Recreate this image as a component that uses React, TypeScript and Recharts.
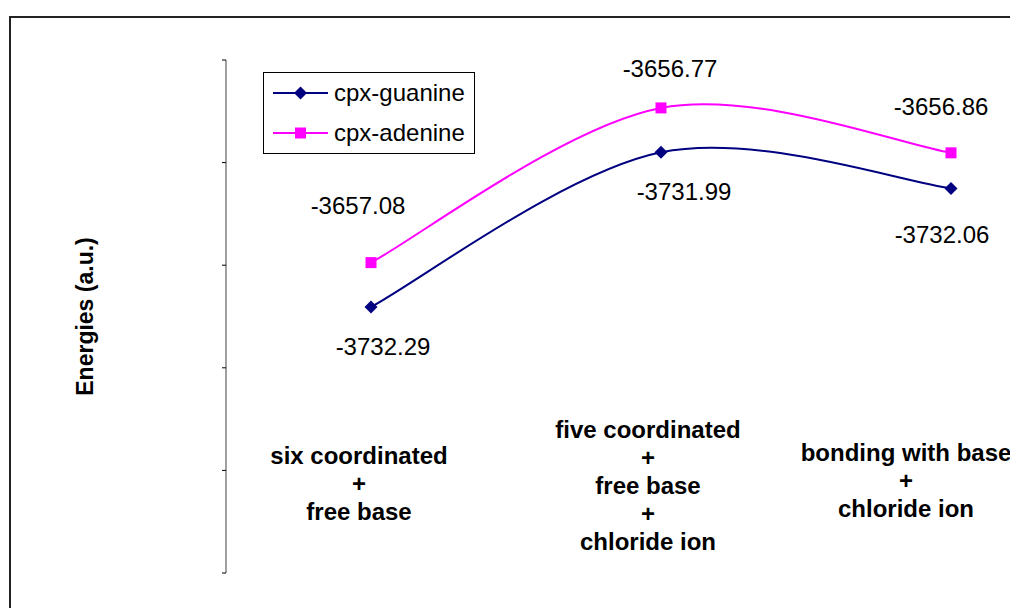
import React from 'react';
import { LineChart, Line, XAxis, YAxis, Legend, LabelList } from 'recharts';

const stages = ['six coordinated', 'five coordinated', 'bonding with base'];
const stageLines = [
  ['six coordinated', '+', 'free base'],
  ['five coordinated', '+', 'free base', '+', 'chloride ion'],
  ['bonding with base', '+', 'chloride ion'],
];
const guanine = [-3732.29, -3731.99, -3732.06];
const adenine = [-3657.08, -3656.77, -3656.86];

const data = stages.map((s, i) => ({ stage: s, guanine: guanine[i], adenine: adenine[i] }));

// the two series sit on their own (unlabelled) scales, as in the original sheet
const gDomain: [number, number] = [-3732.806, -3731.811];
const aDomain: [number, number] = [-3657.702, -3656.674];
const gTicks = [0, 1, 2, 3, 4, 5].map(i => gDomain[0] + (i * (gDomain[1] - gDomain[0])) / 5);

const FONT = 'Arial, "Liberation Sans", sans-serif';
const NAVY = '#000080';
const PINK = '#FF00FF';

// hand-placed label nudges (px) like the dragged labels in the source
const gLabelShift = [[12, 40], [23, 39], [-9, 46]];
const aLabelShift = [[-13, -57], [9, -39], [-10, -46]];
const stageShift = [[-12, -126], [-13, -152], [-45, -129]];

// spreadsheet-style smoothing (Catmull-Rom as cubic beziers)
const excelSmooth = (context: any) => {
  let pts: number[][] = [];
  return {
    areaStart() {},
    areaEnd() {},
    lineStart() { pts = []; },
    point(x: number, y: number) { pts.push([+x, +y]); },
    lineEnd() {
      const n = pts.length;
      if (!n) return;
      context.moveTo(pts[0][0], pts[0][1]);
      for (let i = 0; i < n - 1; i++) {
        const p0 = pts[Math.max(0, i - 1)], p1 = pts[i], p2 = pts[i + 1], p3 = pts[Math.min(n - 1, i + 2)];
        context.bezierCurveTo(
          p1[0] + (p2[0] - p0[0]) / 6, p1[1] + (p2[1] - p0[1]) / 6,
          p2[0] - (p3[0] - p1[0]) / 6, p2[1] - (p3[1] - p1[1]) / 6,
          p2[0], p2[1]);
      }
    },
  };
};

const Diamond = (props: any) => {
  const { cx, cy } = props;
  if (cx == null || cy == null) return null;
  return <path key={`d${cx}`} d={`M${cx},${cy - 6.5}L${cx + 6.5},${cy}L${cx},${cy + 6.5}L${cx - 6.5},${cy}Z`} fill={NAVY} />;
};

const Square = (props: any) => {
  const { cx, cy } = props;
  if (cx == null || cy == null) return null;
  return <rect key={`s${cx}`} x={cx - 5.5} y={cy - 5.5} width={11} height={11} fill={PINK} />;
};

const valueLabel = (shift: number[][]) => (props: any) => {
  const { x, y, index, value } = props;
  const [dx, dy] = shift[index] || [0, 0];
  return (
    <text x={x + dx} y={y + dy} textAnchor="middle" dominantBaseline="central"
      fontFamily={FONT} fontSize={24} fill="#000">
      {Number(value).toFixed(2)}
    </text>
  );
};

const StageTick = (props: any) => {
  const { x, y, payload } = props;
  const i = payload.index;
  const [dx, dy] = stageShift[i];
  return (
    <g>
      {stageLines[i].map((t, k) => (
        <text key={k} x={x + dx} y={y + dy + k * 28} textAnchor="middle" dominantBaseline="central"
          fontFamily={FONT} fontSize={24} fontWeight="bold" fill="#000">
          {t}
        </text>
      ))}
    </g>
  );
};

const LegendBox = () => (
  <div style={{ width: 210, border: '1px solid #000', background: '#fff', fontFamily: FONT, fontSize: 24 }}>
    {[{ name: 'cpx-guanine', c: NAVY, sq: false }, { name: 'cpx-adenine', c: PINK, sq: true }].map(e => (
      <div key={e.name} style={{ height: 40, display: 'flex', alignItems: 'center' }}>
        <svg width={70} height={20} style={{ flex: 'none' }}>
          <line x1={9} y1={10} x2={64} y2={10} stroke={e.c} strokeWidth={2} />
          {e.sq
            ? <rect x={31} y={4.5} width={11} height={11} fill={e.c} />
            : <path d="M36.5,3.5L43,10L36.5,16.5L30,10Z" fill={e.c} />}
        </svg>
        <span>{e.name}</span>
      </div>
    ))}
  </div>
);

export default function App() {
  return (
    <div style={{ position: 'fixed', left: 0, top: 0, width: 1010, height: 608, overflow: 'hidden', background: '#fff' }}>
      <div style={{ position: 'absolute', left: 9, top: 16, width: 1100, height: 700, border: '2px solid #222' }} />
      <div style={{ position: 'absolute', left: 0, top: 0 }}>
        <LineChart width={1100} height={608} data={data} margin={{ top: 60, right: 4, bottom: 5, left: 224 }}>
          <XAxis dataKey="stage" axisLine={false} tickLine={false} height={30} padding={{ left: 145, right: 145 }}
            tick={<StageTick />} interval={0} />
          <YAxis yAxisId="g" width={2} domain={gDomain} ticks={gTicks} tickSize={4} tickFormatter={() => ''}
            axisLine={{ stroke: '#808080', strokeWidth: 1.5 }} tickLine={{ stroke: '#000' }}
            label={(p: any) => {
              const vb = p.viewBox || {};
              const cy = (vb.y ?? 60) + (vb.height ?? 513) / 2;
              return (
                <text x={85} y={cy} textAnchor="middle" dominantBaseline="central"
                  transform={`rotate(-90 85 ${cy})`}
                  fontFamily={FONT} fontSize={23} fontWeight="bold" fill="#000">
                  Energies (a.u.)
                </text>
              );
            }} />
          <YAxis yAxisId="a" hide orientation="right" width={0} domain={aDomain} />
          <Legend layout="vertical" align="center" verticalAlign="middle" content={<LegendBox />}
            wrapperStyle={{ left: 263, top: 72, width: 212 }} />
          <Line yAxisId="g" name="cpx-guanine" dataKey="guanine" type={excelSmooth as any} stroke={NAVY} strokeWidth={2}
            dot={<Diamond />} activeDot={false} isAnimationActive={false}>
            <LabelList dataKey="guanine" content={valueLabel(gLabelShift)} />
          </Line>
          <Line yAxisId="a" name="cpx-adenine" dataKey="adenine" type={excelSmooth as any} stroke={PINK} strokeWidth={2}
            dot={<Square />} activeDot={false} isAnimationActive={false}>
            <LabelList dataKey="adenine" content={valueLabel(aLabelShift)} />
          </Line>
        </LineChart>
      </div>
    </div>
  );
}
